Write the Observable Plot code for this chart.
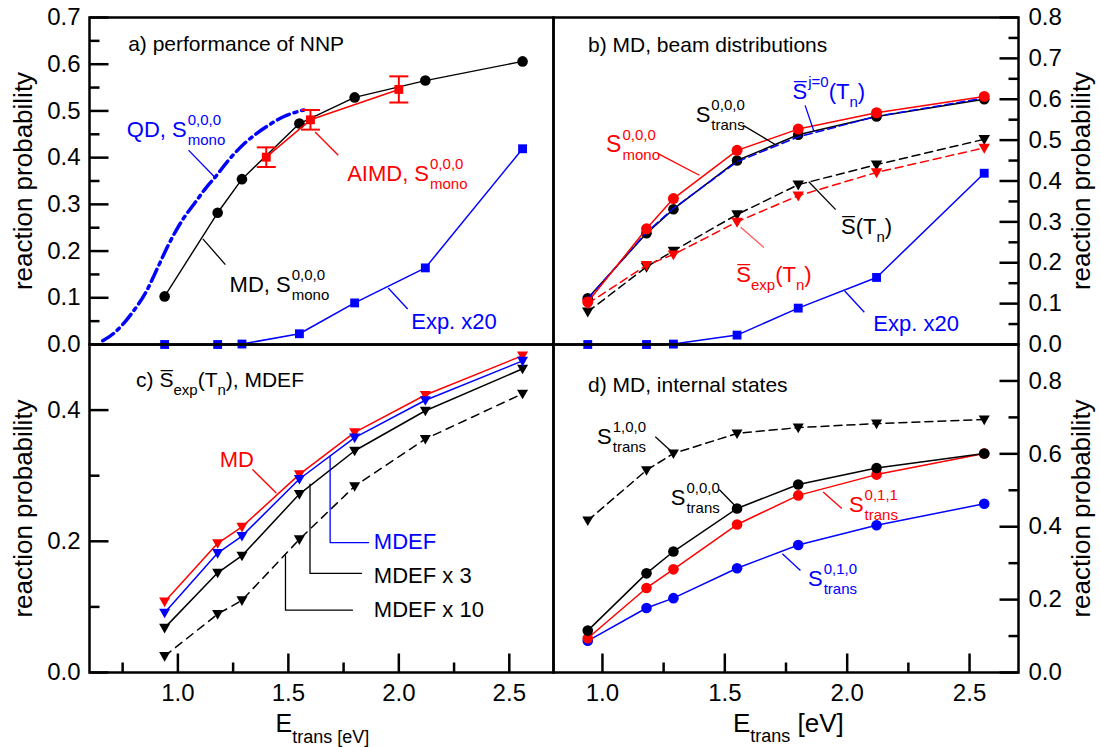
<!DOCTYPE html>
<html><head><meta charset="utf-8">
<script src="https://cdn.jsdelivr.net/npm/d3@7"></script>
<script src="https://cdn.jsdelivr.net/npm/@observablehq/plot@0.6"></script>
<style>
body{margin:0;background:#fff;}
#chart{position:relative;width:1100px;height:747px;overflow:hidden;background:#fff;}
#chart svg{position:absolute;left:0;top:0;}
</style></head><body><div id="chart"></div>
<script>
// ---------------- data ----------------
const energies = [0.94, 1.18, 1.29, 1.55, 1.80, 2.12, 2.56];
// panel a
const mdMono = [0.103, 0.282, 0.354, 0.473, 0.529, 0.565, 0.606];
const expX20 = [0.000, 0.000, 0.001, 0.023, 0.089, 0.164, 0.419];
const aimdEnergies = [1.40, 1.60, 2.00];
const aimdMono = [0.401, 0.481, 0.546];
const aimdError = [0.021, 0.021, 0.028];
const qdEnergies = [0.66, 0.71, 0.79, 0.86, 0.91, 0.96, 1.02, 1.08, 1.13, 1.17, 1.23, 1.31, 1.40, 1.48, 1.57];
const qdMono = [0.008, 0.024, 0.066, 0.116, 0.166, 0.216, 0.266, 0.305, 0.337, 0.359, 0.395, 0.434, 0.466, 0.488, 0.502];
// panel b
const bMono = [0.104, 0.283, 0.357, 0.475, 0.527, 0.567, 0.607];
const bTrans = [0.113, 0.272, 0.331, 0.450, 0.513, 0.558, 0.600];
const bJ0 = [0.112, 0.274, 0.333, 0.447, 0.508, 0.558, 0.603];
const bSbar = [0.080, 0.190, 0.229, 0.318, 0.391, 0.440, 0.502];
const bSbarExp = [0.100, 0.194, 0.220, 0.300, 0.364, 0.421, 0.481];
// panel c
const cMD = [0.108, 0.197, 0.222, 0.302, 0.366, 0.423, 0.483];
const cMDEF = [0.091, 0.182, 0.208, 0.295, 0.358, 0.415, 0.475];
const cMDEF3 = [0.068, 0.152, 0.178, 0.272, 0.338, 0.399, 0.463];
const cMDEF10 = [0.025, 0.089, 0.110, 0.203, 0.284, 0.356, 0.425];
// panel d
const dS100 = [0.417, 0.555, 0.601, 0.656, 0.672, 0.683, 0.694];
const dS000 = [0.115, 0.272, 0.332, 0.450, 0.516, 0.561, 0.601];
const dS011 = [0.094, 0.232, 0.283, 0.406, 0.486, 0.543, 0.601];
const dS010 = [0.087, 0.177, 0.204, 0.286, 0.350, 0.404, 0.463];
// ticks
const aYTicks = [0.0, 0.1, 0.2, 0.3, 0.4, 0.5, 0.6, 0.7];
const aYMinor = [0.05, 0.15, 0.25, 0.35, 0.45, 0.55, 0.65];
const bYTicks = [0.0, 0.1, 0.2, 0.3, 0.4, 0.5, 0.6, 0.7, 0.8];
const bYMinor = [0.05, 0.15, 0.25, 0.35, 0.45, 0.55, 0.65, 0.75];
const cYTicks = [0.0, 0.2, 0.4];
const cYMinor = [0.1, 0.3];
const dYTicks = [0.0, 0.2, 0.4, 0.6, 0.8];
const dYMinor = [0.1, 0.3, 0.5, 0.7];
const xTicks = [1.0, 1.5, 2.0, 2.5];
const cXMinor = [0.75, 1.25, 1.75, 2.25];
const dXMinor = [1.25, 1.75, 2.25];
const SBAR = "S\u0305";
// annotations (data units)
const aLabels = [
  {x: 0.775, y: 0.629, color: "black", fs: 21, segs: ["a) performance of NNP"]},
  {x: 0.769, y: 0.444, color: "blue", segs: ["QD, S", ["0,0,0", "sup"], ["mono", "stack"]]},
  {x: 1.766, y: 0.351, color: "red", segs: ["AIMD, S", ["0,0,0", "sup"], ["mono", "stack"]]},
  {x: 1.234, y: 0.112, color: "black", segs: ["MD, S", ["0,0,0", "sup"], ["mono", "stack"]]},
  {x: 2.056, y: 0.034, color: "blue", segs: ["Exp. x20"]}
];
const aLeaders = [
  {x1: 1.048, y1: 0.416, x2: 1.165, y2: 0.359, color: "blue"},
  {x1: 1.621, y1: 0.455, x2: 1.726, y2: 0.405, color: "red"},
  {x1: 1.113, y1: 0.226, x2: 1.215, y2: 0.171, color: "black"},
  {x1: 1.952, y1: 0.121, x2: 2.040, y2: 0.076, color: "blue"}
];
const bLabels = [
  {x: 0.941, y: 0.716, color: "black", fs: 21, segs: ["b) MD, beam distributions"]},
  {x: 1.015, y: 0.471, color: "red", fs: 23, segs: ["S", ["0,0,0", "sup"], ["mono", "stack"]]},
  {x: 1.381, y: 0.544, color: "black", segs: ["S", ["0,0,0", "sup"], ["trans", "stack"]]},
  {x: 1.777, y: 0.600, color: "blue", segs: [SBAR, ["j=0", "sup"], "(T", ["n", "sub"], ")"]},
  {x: 1.975, y: 0.271, color: "black", segs: [SBAR, "(T", ["n", "sub"], ")"]},
  {x: 1.547, y: 0.153, color: "red", segs: [SBAR, ["exp", "sub"], "(T", ["n", "sub"], ")"]},
  {x: 2.107, y: 0.034, color: "blue", segs: ["Exp. x20"]}
];
const bLeaders = [
  {x1: 1.227, y1: 0.467, x2: 1.396, y2: 0.414, color: "red"},
  {x1: 1.575, y1: 0.536, x2: 1.704, y2: 0.490, color: "black"},
  {x1: 1.828, y1: 0.585, x2: 1.865, y2: 0.520, color: "blue"},
  {x1: 1.843, y1: 0.398, x2: 1.953, y2: 0.330, color: "black"},
  {x1: 1.565, y1: 0.287, x2: 1.660, y2: 0.237, color: "#ff5555"},
  {x1: 1.990, y1: 0.131, x2: 2.070, y2: 0.079, color: "blue"}
];
const cLabels = [
  {x: 0.811, y: 0.435, color: "black", fs: 21, segs: ["c) ", SBAR, ["exp", "sub"], "(T", ["n", "sub"], "), MDEF"]},
  {x: 1.189, y: 0.313, color: "red", segs: ["MD"]},
  {x: 1.887, y: 0.188, color: "blue", segs: ["MDEF"]},
  {x: 1.887, y: 0.136, color: "black", segs: ["MDEF x 3"]},
  {x: 1.887, y: 0.085, color: "black", segs: ["MDEF x 10"]}
];
const cLeaderLines = [
  {id: "md", x: 1.339, y: 0.309, color: "red"}, {id: "md", x: 1.444, y: 0.274, color: "red"},
  {id: "mdef", x: 1.689, y: 0.330, color: "blue"}, {id: "mdef", x: 1.689, y: 0.198, color: "blue"}, {id: "mdef", x: 1.863, y: 0.198, color: "blue"},
  {id: "m3", x: 1.598, y: 0.287, color: "black"}, {id: "m3", x: 1.598, y: 0.151, color: "black"}, {id: "m3", x: 1.831, y: 0.151, color: "black"},
  {id: "m10", x: 1.487, y: 0.178, color: "black"}, {id: "m10", x: 1.487, y: 0.095, color: "black"}, {id: "m10", x: 1.790, y: 0.095, color: "black"}
];
const dLabels = [
  {x: 0.941, y: 0.771, color: "black", fs: 21, segs: ["d) MD, internal states"]},
  {x: 0.978, y: 0.628, color: "black", segs: ["S", ["1,0,0", "sup"], ["trans", "stack"]]},
  {x: 1.279, y: 0.459, color: "black", segs: ["S", ["0,0,0", "sup"], ["trans", "stack"]]},
  {x: 2.007, y: 0.440, color: "red", segs: ["S", ["0,1,1", "sup"], ["trans", "stack"]]},
  {x: 1.840, y: 0.236, color: "blue", segs: ["S", ["0,1,0", "sup"], ["trans", "stack"]]}
];
const dLeaders = [
  {x1: 1.216, y1: 0.647, x2: 1.283, y2: 0.606, color: "black"},
  {x1: 1.477, y1: 0.502, x2: 1.547, y2: 0.454, color: "black"},
  {x1: 1.902, y1: 0.495, x2: 1.978, y2: 0.450, color: "red"},
  {x1: 1.735, y1: 0.326, x2: 1.809, y2: 0.280, color: "blue"}
];

// ---------------- helpers ----------------
const FONT = '"Liberation Sans", Arial, Helvetica, sans-serif';
const COLORS = {red: "#ff0000", blue: "#0000ff", black: "#000000"};
const col = c => COLORS[c] || c;
const cvs = document.createElement("canvas").getContext("2d");
function measure(t, size) { cvs.font = `${size}px ${FONT}`; return cvs.measureText(t).width; }

const tickSym = (dx, dy) => ({draw(c) { c.moveTo(0, 0); c.lineTo(dx, dy); }});
const capSym = {draw(c) { c.moveTo(-9.5, 0); c.lineTo(9.5, 0); }};
const triDown = {draw(c, size) { const r = Math.sqrt(size / Math.PI); const w = r * 1.15, h = r * 2.0;
  c.moveTo(-w, -h * 0.42); c.lineTo(w, -h * 0.42); c.lineTo(0, h * 0.58); c.closePath(); }};

function rich(pos, segs, {fill = "black", fs = 22, ss = 15, supDy = -12, subDy = 8} = {}) {
  const out = [];
  let cur = 0, lastStart = 0;
  for (const s of segs) {
    const [t, kind] = Array.isArray(s) ? s : [s, "n"];
    const size = kind === "n" ? fs : ss;
    const dy = kind === "sup" ? supDy : (kind === "sub" || kind === "stack") ? subDy : 0;
    const x0 = kind === "stack" ? lastStart : (kind === "sup" ? cur + 1 : cur);
    const w = measure(t, size);
    cur = kind === "stack" ? Math.max(cur, x0 + w) : x0 + w;
    lastStart = x0;
    const base = pos.frameAnchor ? {frameAnchor: pos.frameAnchor} : {x: "x", y: "y"};
    out.push(Plot.text([pos], {...base, text: () => t, dx: (pos.dx || 0) + x0, dy: (pos.dy || 0) + dy,
      fontSize: size, fill, textAnchor: "start", lineAnchor: "bottom", fontFamily: FONT}));
  }
  return out;
}
const labels = list => list.flatMap(l => rich({x: l.x, y: l.y}, l.segs, {fill: col(l.color), fs: l.fs || 22}));
const leaders = list => list.map(l => Plot.link([l], {x1: "x1", y1: "y1", x2: "x2", y2: "y2", stroke: col(l.color), strokeWidth: 1.3}));

function series(xs, ys, {color, dash, symbol, r = 5.2, width = 1.5}) {
  const data = xs.map((x, i) => ({x, y: ys[i]}));
  const m = [Plot.line(data, {x: "x", y: "y", stroke: col(color), strokeWidth: width, strokeDasharray: dash})];
  if (symbol) m.push(Plot.dot(data, {x: "x", y: "y", fill: col(color), stroke: "none", symbol, r}));
  return m;
}
function yAxis(major, minor, side) {
  const s = side === "left" ? 1 : -1;
  return [
    Plot.dot(major, {y: d => d, frameAnchor: side, symbol: tickSym(19 * s, 0), r: 1, stroke: "black", strokeWidth: 2.5, fill: "none"}),
    Plot.dot(minor, {y: d => d, frameAnchor: side, symbol: tickSym(10 * s, 0), r: 1, stroke: "black", strokeWidth: 2.5, fill: "none"}),
    Plot.text(major, {y: d => d, frameAnchor: side, text: d => d.toFixed(1), dx: side === "left" ? -9 : 10,
      textAnchor: side === "left" ? "end" : "start", fontSize: 24, fontFamily: FONT, fill: "black"}),
    Plot.text(["reaction probability"], {frameAnchor: side, dx: side === "left" ? -66 : 63, rotate: -90,
      fontSize: 26, fontFamily: FONT, fill: "black", textAnchor: "middle", lineAnchor: "middle"})
  ];
}
function xAxis(major, minor) {
  return [
    Plot.dot(major, {x: d => d, frameAnchor: "bottom", symbol: tickSym(0, -19), r: 1, stroke: "black", strokeWidth: 2.5, fill: "none"}),
    Plot.dot(minor, {x: d => d, frameAnchor: "bottom", symbol: tickSym(0, -10), r: 1, stroke: "black", strokeWidth: 2.5, fill: "none"}),
    Plot.text(major, {x: d => d, frameAnchor: "bottom", text: d => d.toFixed(1), dy: 11, lineAnchor: "top",
      fontSize: 24, fontFamily: FONT, fill: "black"})
  ];
}
function panel(m, xd, yd, marks) {
  return Plot.plot({
    width: 1100, height: 747,
    marginLeft: m[0], marginRight: m[1], marginTop: m[2], marginBottom: m[3],
    x: {type: "linear", domain: xd, axis: null},
    y: {type: "linear", domain: yd, axis: null},
    style: {background: "none", fontFamily: FONT, color: "black", overflow: "visible"},
    marks: [...marks, Plot.frame({stroke: "black", strokeWidth: 2.5})]
  });
}

// ---------------- panels ----------------
const aimdRows = aimdEnergies.map((e, i) => ({x: e, y: aimdMono[i], err: aimdError[i]}));
const pa = panel([89, 547, 17, 403], [0.6, 2.7], [0, 0.7], [
  ...yAxis(aYTicks, aYMinor, "left"),
  Plot.line(qdEnergies.map((e, i) => ({x: e, y: qdMono[i]})), {x: "x", y: "y", stroke: col("blue"), strokeWidth: 3.5,
    strokeDasharray: "13,5,3,5", curve: "monotone-x"}),
  ...series(energies, expX20, {color: "blue", symbol: "square", r: 5}),
  ...series(energies, mdMono, {color: "black", symbol: "circle", r: 5.3, width: 1.4}),
  Plot.line(aimdRows, {x: "x", y: "y", stroke: col("red"), strokeWidth: 1.5}),
  Plot.ruleX(aimdRows, {x: "x", y1: d => d.y - d.err, y2: d => d.y + d.err, stroke: col("red"), strokeWidth: 2}),
  Plot.dot(aimdRows, {x: "x", y: d => d.y - d.err, symbol: capSym, r: 1, stroke: col("red"), strokeWidth: 2, fill: "none"}),
  Plot.dot(aimdRows, {x: "x", y: d => d.y + d.err, symbol: capSym, r: 1, stroke: col("red"), strokeWidth: 2, fill: "none"}),
  Plot.dot(aimdRows, {x: "x", y: "y", symbol: "square", r: 5, fill: col("red")}),
  ...leaders(aLeaders),
  ...labels(aLabels)
]);

const pb = panel([553, 82, 17, 403], [0.8, 2.7], [0, 0.8], [
  ...yAxis(bYTicks, bYMinor, "right"),
  ...series(energies, bSbar, {color: "black", dash: "8,5", symbol: triDown, r: 5}),
  ...series(energies, bSbarExp, {color: "red", dash: "8,5", symbol: triDown, r: 5}),
  ...series(energies, expX20, {color: "blue", symbol: "square", r: 5}),
  ...series(energies, bTrans, {color: "black", symbol: "circle", r: 5.3}),
  ...series(energies, bJ0, {color: "blue", dash: "8,4"}),
  ...series(energies, bMono, {color: "red", symbol: "circle", r: 5.5}),
  ...leaders(bLeaders),
  ...labels(bLabels)
]);

const pc = panel([89, 547, 344, 75], [0.6, 2.7], [0, 0.5], [
  ...yAxis(cYTicks, cYMinor, "left"),
  ...xAxis(xTicks, cXMinor),
  ...series(energies, cMDEF10, {color: "black", dash: "8,6", symbol: triDown, r: 4.8}),
  ...series(energies, cMDEF3, {color: "black", symbol: triDown, r: 4.8}),
  ...series(energies, cMD, {color: "red", symbol: triDown, r: 4.8}),
  ...series(energies, cMDEF, {color: "blue", symbol: triDown, r: 4.8}),
  Plot.line(cLeaderLines, {x: "x", y: "y", z: "id", stroke: d => col(d.color), strokeWidth: 1.3}),
  ...labels(cLabels),
  ...rich({frameAnchor: "bottom", dx: -46, dy: 59}, ["E", ["trans [eV]", "sub"]], {fs: 25, ss: 18, subDy: 11})
]);

const pd = panel([553, 82, 344, 75], [0.8, 2.7], [0, 0.9], [
  ...yAxis(dYTicks, dYMinor, "right"),
  ...xAxis(xTicks, dXMinor),
  ...series(energies, dS100, {color: "black", dash: "8,5", symbol: triDown, r: 4.8}),
  ...series(energies, dS010, {color: "blue", symbol: "circle", r: 5.3}),
  ...series(energies, dS011, {color: "red", symbol: "circle", r: 5.3}),
  ...series(energies, dS000, {color: "black", symbol: "circle", r: 5.3}),
  ...leaders(dLeaders),
  ...labels(dLabels),
  ...rich({frameAnchor: "bottom", dx: -53, dy: 59}, ["E", ["trans", "sub"], " [eV]"], {fs: 26, ss: 18, subDy: 10})
]);

const chart = document.getElementById("chart");
for (const p of [pa, pb, pc, pd]) chart.appendChild(p);
</script>
</body></html>
